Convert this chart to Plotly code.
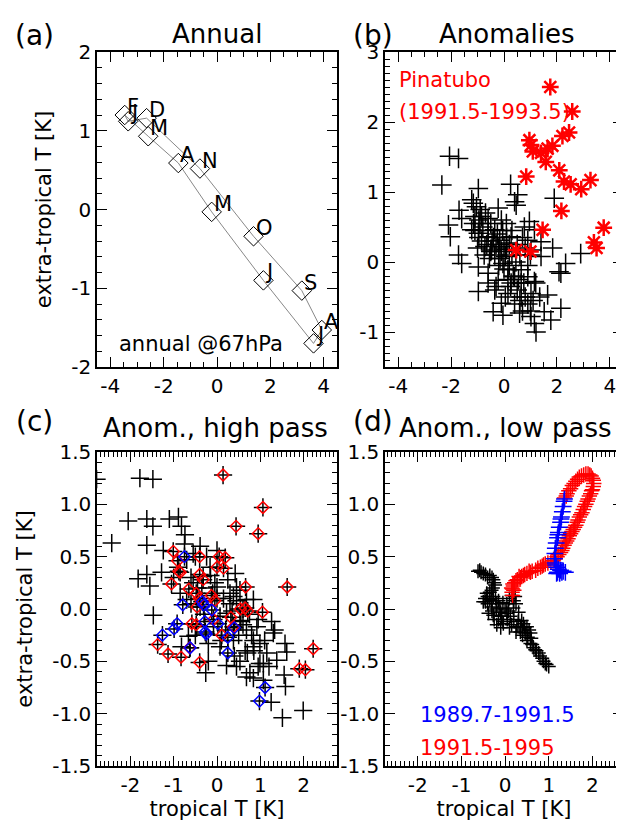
import plotly.graph_objects as go

# ---- (a) annual cycle ----
month_labels = ["J", "F", "M", "A", "M", "J", "J", "A", "S", "O", "N", "D"]
annual_trop = [-3.33, -3.46, -2.58, -1.45, -0.20, 1.74, 3.62, 3.93, 3.18, 1.37, -0.64, -2.64]
annual_extra = [1.12, 1.20, 0.93, 0.59, -0.03, -0.90, -1.70, -1.53, -1.03, -0.34, 0.52, 1.16]

# ---- (b) anomalies ----
anom_trop = [-2.06, -1.72, -2.35, -0.97, 0.25, 0.52, 1.90, 0.40, 0.46, -1.22, -1.16, -1.04, -0.22,
             -1.70, -1.60, -2.10, -2.03, -1.10, -0.91, -0.60, -0.10, 0.09, 0.96, 0.77, 1.15, -1.22,
             -0.97, -0.60, -0.35, -0.16, 0.09, -0.72, -0.47, 0.27, 0.90, 1.40, 1.84, -1.72, -1.60,
             -0.97, -0.60, -0.04, 0.15, 0.65, 0.90, 0.40, -0.22, 0.27, 0.65, 1.15, -0.97, -0.35,
             0.15, 0.65, 1.02, 1.65, -0.10, -0.41, -0.04, 0.59, 1.02, 1.52, 2.15, 1.15, 1.21, 1.77,
             2.33, 2.90, 2.08, 2.15, 1.40, 1.02,
             -0.90, -0.85, -0.70, -0.95, -0.80, -0.60, -0.50, -0.40, -0.30, -0.20, -0.10, 0.00,
             0.10, 0.20, -0.25, -0.45, -0.65, -0.85, -1.00, -0.75, -0.55, -0.35, -0.15, 0.05, 0.30,
             0.45, 0.20, 0.00, -0.20, 0.35, 0.55, 0.75, 0.25, 0.50, 0.80, 0.60, 0.90, 1.00, 0.70,
             1.10, 0.40, 0.15, 0.60, 0.80, 0.70, 1.00, -1.10, -1.15, -0.95, -0.50, 0.10, 0.30,
             -0.05, 0.50, 0.90, 1.20, 1.35, -0.60, -0.30, 0.05]
anom_extra = [1.51, 1.48, 1.10, 1.05, 1.11, 0.96, 0.91, 0.86, 0.81, 0.89, 0.84, 0.79, 0.77,
              0.74, 0.62, 0.53, 0.36, 0.65, 0.55, 0.62, 0.60, 0.55, 0.58, 0.50, 0.46, 0.46,
              0.41, 0.36, 0.46, 0.31, 0.27, 0.22, 0.17, 0.36, 0.31, 0.29, 0.20, 0.10, -0.02,
              -0.07, -0.16, -0.02, -0.11, -0.11, -0.21, -0.21, -0.26, -0.30, -0.30, -0.28, -0.42, -0.40,
              -0.45, -0.50, -0.45, -0.47, -0.59, -0.71, -0.76, -0.73, -0.78, -0.71, -0.66, -0.88, -1.00, -0.83,
              -0.02, 0.12, -0.14, -0.16, 0.08, 0.17,
              0.75, 0.65, 0.70, 0.60, 0.50, 0.45, 0.55, 0.35, 0.25, 0.20, 0.15, 0.22,
              0.18, 0.25, 0.40, 0.30, 0.25, 0.30, 0.20, 0.10, 0.05, 0.10, 0.05, 0.08, 0.10,
              0.00, -0.05, -0.10, -0.05, -0.20, -0.25, -0.30, -0.35, -0.40, -0.50, -0.55, -0.60, -0.70, -0.70,
              -0.55, -0.60, -0.25, 0.10, 0.20, 0.35, 0.10, 0.45, 0.55, 0.35, 0.15, 0.35, 0.45,
              0.45, 0.25, -0.05, -0.30, -0.50, -0.30, -0.35, -0.50]
pina_trop = [1.75, 2.58, 2.46, 2.21, 0.96, 1.02, 1.83, 1.65, 1.09, 1.40, 1.58, 2.09, 0.84, 2.27,
             2.52, 2.92, 3.27, 2.17, 3.77, 1.46, 3.40, 3.50, 0.46, 1.00]
pina_extra = [2.50, 2.15, 1.85, 1.80, 1.74, 1.67, 1.66, 1.62, 1.58, 1.56, 1.43, 1.31, 1.22, 1.15,
              1.11, 1.04, 1.17, 0.73, 0.49, 0.46, 0.28, 0.20, 0.17, 0.15]

# ---- (c) high pass ----
hp_trop = [-2.78, -1.78, -1.48, -2.05, -1.62, -1.48, -2.43, -1.10, -0.89, -0.82, -0.74, -1.62,
           -1.24, -1.82, -1.62, -1.28, -1.55, -1.47, -0.39, 0.00, 0.42, 0.00, 0.53, 0.84, 1.26,
           1.33, 1.30, 0.84, 0.99, 1.57, 1.61, 1.55, 1.58, 1.25, 1.99, 1.51, 0.53, 0.22, -0.26,
           0.45, 0.76, 0.68, 0.84, 0.99, 1.07, -0.82, -0.66, -0.47, -0.20, 0.07, 0.38, 0.68,
           0.92, 0.53, 0.22, -0.39, -0.70, -0.85, -0.55, -0.32, -0.16, -0.70, -0.55, -0.24, 0.38,
           0.68, 0.45, 0.30, 0.07, -0.08, 0.84, 1.15, 1.07, 1.38,
           -0.60, -0.45, -0.10, 0.15, 0.60, 0.75, -0.30, 0.20, 0.50, -0.90, -0.60, 0.95, 1.10,
           -0.05, 0.30, 0.60, 0.85, -0.50, -1.00, -0.20, 0.10, 0.40, 0.65, 0.95,
           -0.75, -0.35, 0.25, 0.55, 0.80, -0.15, 0.35, 0.70, 1.20, -0.50, 0.00, 0.45]
hp_extra = [1.24, 1.25, 1.24, 0.84, 0.86, 0.79, 0.63, 0.86, 0.88, 0.79, 0.71, 0.61,
            0.56, 0.29, 0.33, 0.35, 0.22, -0.06, 0.60, 0.56, 0.34, 0.21, 0.18, 0.09, -0.12,
            -0.20, -0.23, -0.36, -0.33, -0.33, -0.41, -0.63, -0.74, -0.89, -0.97, -1.04, -0.50, -0.54, -0.61,
            -0.55, -0.61, -0.65, -0.66, -0.52, -0.68, -0.36, -0.26, -0.17, -0.33, -0.36, -0.30, -0.20,
            -0.17, -0.11, -0.04, 0.02, 0.09, 0.15, 0.25, 0.31, 0.40, 0.47, 0.53, 0.50, 0.12,
            0.09, 0.21, 0.05, -0.07, -0.17, -0.30, -0.42, -0.52, -0.49,
            0.30, 0.20, 0.15, 0.10, 0.00, -0.05, -0.05, -0.20, -0.25, 0.40, 0.05, -0.10, -0.30,
            0.25, 0.15, -0.15, -0.40, -0.25, 0.30, -0.50, -0.30, -0.45, -0.40, -0.55,
            0.62, 0.20, 0.28, -0.12, -0.25, 0.32, -0.02, -0.42, -0.55, 0.50, 0.10, 0.08]
hp_red_trop = [0.14, 1.06, 0.44, 0.95, -1.01, -0.91, -0.40, 0.05, 0.19, 0.00, 0.15, -0.88, -0.85,
               -0.40, -0.32, -1.05, 0.66, 1.62, -0.65, -0.48, -0.41, -0.05, -0.13, -0.46, 0.54,
               0.65, 0.71, 1.05, -0.08, 0.32, -0.58, -0.48, 0.38, 0.11, -1.37, 2.22, -1.13, -0.83,
               -0.40, -0.63, 1.90, 2.04]
hp_red_extra = [1.28, 0.97, 0.79, 0.72, 0.55, 0.46, 0.50, 0.50, 0.49, 0.40, 0.39, 0.36, 0.35,
                0.33, 0.28, 0.24, 0.21, 0.21, 0.19, 0.15, 0.10, 0.08, 0.13, 0.02, 0.00,
                0.01, -0.02, -0.03, -0.10, -0.08, -0.14, -0.15, -0.17, -0.25, -0.34, -0.38, -0.43, -0.46,
                -0.51, -0.37, -0.57, -0.58]
hp_blue_trop = [-0.75, -0.79, -0.34, -0.31, -0.12, -0.28, 0.02, -0.92, -0.99, -1.26, -0.27, -0.25,
                0.25, 0.40, -0.62, 0.25, 1.11, 0.98]
hp_blue_extra = [0.50, 0.04, 0.07, 0.04, -0.01, -0.12, -0.14, -0.14, -0.19, -0.25, -0.22, -0.24,
                 -0.27, -0.18, -0.37, -0.42, -0.75, -0.88]

# ---- (d) low pass ----
lp_trop = [-0.62, -0.50, -0.35, -0.27, -0.23, -0.31, -0.42, -0.46, -0.35, -0.27, 0.23, 0.15,
           -0.19, -0.12, -0.31, -0.38, -0.27, -0.08, 0.04, 0.12, -0.15, -0.19, -0.04, 0.15, 0.27,
           0.42, 0.50, 0.58, 0.46, 0.35, 0.50, 0.62, 0.69, 0.77, 0.85, 0.92, 1.00, 0.04, 0.19,
           0.31, 0.38, -0.50, -0.58,
           -0.55, -0.45, -0.40, -0.30, -0.25, -0.28, -0.35, -0.40, -0.45, -0.40, -0.30, -0.22,
           -0.15, -0.05, 0.10, 0.20, 0.25, -0.20, -0.30, -0.25, -0.10, 0.00, 0.08, -0.05, 0.05,
           0.20, 0.30, 0.35, 0.40, 0.45, 0.55, 0.52, 0.60, 0.58, 0.65, 0.72, 0.80, 0.88, 0.95,
           -0.10, 0.10, 0.25, 0.40]
lp_extra = [0.36, 0.34, 0.32, 0.28, 0.23, 0.18, 0.15, 0.10, 0.09, 0.12, 0.12, 0.13,
            0.05, 0.01, 0.02, -0.04, -0.06, -0.07, -0.04, -0.07, -0.10, -0.15, -0.14, -0.15, -0.17,
            -0.14, -0.17, -0.23, -0.23, -0.22, -0.30, -0.34, -0.39, -0.42, -0.47, -0.52, -0.55, 0.05, 0.01,
            -0.03, -0.11, 0.07, 0.37,
            0.35, 0.33, 0.30, 0.30, 0.25, 0.20, 0.16, 0.12, 0.07, 0.05, 0.08, 0.10,
            0.08, 0.06, 0.10, 0.08, 0.05, 0.00, -0.02, -0.10, -0.03, 0.00, -0.02, -0.12, -0.10,
            -0.10, -0.12, -0.18, -0.20, -0.18, -0.20, -0.27, -0.28, -0.33, -0.37, -0.40, -0.45, -0.50, -0.53,
            -0.18, -0.18, -0.22, -0.25]
lp_blue_trop = [1.20, 1.25, 1.30, 1.38, 1.22, 1.18, 1.15, 1.13, 1.14, 1.15, 1.17, 1.20, 1.22,
                1.24, 1.27, 1.29, 1.31, 1.33, 1.35, 1.18, 1.27, 1.33, 1.16, 1.21, 1.28, 1.36]
lp_blue_extra = [0.35, 0.34, 0.35, 0.35, 0.38, 0.40, 0.44, 0.48, 0.53, 0.58, 0.63, 0.68, 0.73,
                 0.78, 0.83, 0.88, 0.93, 0.98, 1.03, 0.34, 0.37, 0.36, 0.42, 0.71, 0.86, 1.05]
lp_red_trop = [1.36, 1.42, 1.50, 1.58, 1.66, 1.75, 1.85, 1.94, 2.00, 2.03, 2.00, 1.96, 1.90, 1.85,
               1.79, 1.73, 1.67, 1.62, 1.56, 1.50, 1.44, 1.38, 1.32, 1.27, 1.19, 1.10, 0.98, 0.88,
               0.81, 0.70, 0.58, 0.50, 0.42, 0.35, 0.28, 0.22, 0.19, 0.17, 0.16, 0.17,
               0.15, 0.18, 0.20, 0.25, 0.32, 0.38, 0.45, 0.55, 0.62, 0.75, 0.85, 0.92, 1.05, 1.15,
               1.23, 1.30, 1.35, 1.41, 1.47, 1.53, 1.59, 1.65, 1.70, 1.76, 1.82, 1.88, 1.93, 1.98,
               2.02, 2.02, 1.97, 1.90, 1.80, 1.70, 1.62, 1.54, 1.46, 1.40]
lp_red_extra = [1.06, 1.10, 1.15, 1.20, 1.24, 1.27, 1.29, 1.28, 1.25, 1.20, 1.14, 1.10, 1.05, 1.00,
                0.95, 0.90, 0.85, 0.80, 0.76, 0.72, 0.67, 0.63, 0.58, 0.54, 0.50, 0.46, 0.44, 0.42,
                0.40, 0.37, 0.35, 0.34, 0.32, 0.30, 0.28, 0.25, 0.22, 0.19, 0.16, 0.13,
                0.20, 0.24, 0.18, 0.27, 0.31, 0.31, 0.33, 0.36, 0.36, 0.39, 0.41, 0.43, 0.45, 0.48,
                0.52, 0.56, 0.61, 0.65, 0.70, 0.74, 0.78, 0.83, 0.88, 0.92, 0.98, 1.03, 1.08, 1.13,
                1.17, 1.23, 1.27, 1.29, 1.28, 1.26, 1.22, 1.18, 1.13, 1.08]

FONT = "DejaVu Sans"
OFF = 8  # the page body has an 8px margin
W, H = 624 - OFF, 827 - OFF


def mk(symbol, size, color, width):
    return dict(symbol=symbol, size=size, color=color, line=dict(width=width, color=color))


fig = go.Figure()

# (a)
fig.add_trace(go.Scatter(x=annual_trop + annual_trop[:1], y=annual_extra + annual_extra[:1],
                         mode="lines", line=dict(color="#888888", width=1),
                         xaxis="x", yaxis="y"))
fig.add_trace(go.Scatter(x=annual_trop, y=annual_extra, mode="markers",
                         marker=mk("diamond-open", 15, "black", 1),
                         xaxis="x", yaxis="y"))
for lab, xv, yv in zip(month_labels, annual_trop, annual_extra):
    fig.add_annotation(text=lab, x=xv, y=yv, xref="x", yref="y", xanchor="left",
                       yanchor="bottom", xshift=0, yshift=-6, showarrow=False,
                       font=dict(size=21, color="black", family=FONT))

# (b)
fig.add_trace(go.Scatter(x=anom_trop, y=anom_extra, mode="markers",
                         marker=mk("cross-thin-open", 14, "black", 1.5),
                         xaxis="x2", yaxis="y2"))
fig.add_trace(go.Scatter(x=pina_trop, y=pina_extra, mode="markers",
                         marker=mk("asterisk-open", 14, "red", 2.5),
                         xaxis="x2", yaxis="y2"))

# (c)
fig.add_trace(go.Scatter(x=hp_trop + hp_red_trop + hp_blue_trop,
                         y=hp_extra + hp_red_extra + hp_blue_extra, mode="markers",
                         marker=mk("cross-thin-open", 13, "black", 1.5),
                         xaxis="x3", yaxis="y3"))
fig.add_trace(go.Scatter(x=hp_red_trop, y=hp_red_extra, mode="markers",
                         marker=mk("diamond-open", 9, "red", 1.5),
                         xaxis="x3", yaxis="y3"))
fig.add_trace(go.Scatter(x=hp_blue_trop, y=hp_blue_extra, mode="markers",
                         marker=mk("diamond-open", 9, "blue", 1.5),
                         xaxis="x3", yaxis="y3"))

# (d)
fig.add_trace(go.Scatter(x=lp_trop, y=lp_extra, mode="markers",
                         marker=mk("cross-thin-open", 10, "black", 1.5),
                         xaxis="x4", yaxis="y4"))
fig.add_trace(go.Scatter(x=lp_red_trop, y=lp_red_extra, mode="markers",
                         marker=mk("cross-thin-open", 11, "red", 1.5),
                         xaxis="x4", yaxis="y4"))
fig.add_trace(go.Scatter(x=lp_blue_trop, y=lp_blue_extra, mode="markers",
                         marker=mk("cross-thin-open", 12, "blue", 1.5),
                         xaxis="x4", yaxis="y4"))


def px_x(p):
    return (p - OFF) / W


def px_y(p):
    return 1 - (p - OFF) / H


def axis(rng, vals, texts, dom, minor, anchor, title=None, standoff=12):
    d = dict(range=rng, domain=dom, anchor=anchor, tickvals=vals, ticktext=texts,
             ticks="inside", ticklen=10, tickwidth=1, tickcolor="black",
             mirror="allticks", showline=True, linecolor="black", linewidth=1.5,
             showgrid=False, zeroline=False, automargin=False,
             tickfont=dict(size=20, color="black", family=FONT),
             minor=dict(dtick=minor, ticks="inside", ticklen=5, tickcolor="black", showgrid=False))
    if title:
        d["title"] = dict(text=title, font=dict(size=21, color="black", family=FONT),
                          standoff=standoff)
    return d


xa = [px_x(97), px_x(337)]
xb = [px_x(385), min(1.0, px_x(623))]
ytop = [px_y(367), px_y(52)]
ybot = [px_y(766), px_y(452)]

t4 = [-4, -2, 0, 2, 4]
t4s = ["-4", "-2", "0", "2", "4"]
t2 = [-2, -1, 0, 1, 2]
t2s = ["-2", "-1", "0", "1", "2"]
yc = [-1.5, -1.0, -0.5, 0.0, 0.5, 1.0, 1.5]
ycs = ["-1.5", "-1.0", "-0.5", "0.0", "0.5", "1.0", "1.5"]

fig.update_layout(
    width=W, height=H, margin=dict(l=0, r=0, t=0, b=0, autoexpand=False),
    plot_bgcolor="white", paper_bgcolor="white", showlegend=False,
    font=dict(family=FONT, color="black"),
    xaxis=axis([-4.5, 4.5], t4, t4s, xa, 0.5, "y"),
    yaxis=axis([-2, 2], [-2, -1, 0, 1, 2], ["-2", "-1", "0", "1", "2"], ytop, 0.2, "x",
               title="extra-tropical T [K]", standoff=14),
    xaxis2=axis([-4.5, 4.5], t4, t4s, xb, 0.5, "y2"),
    yaxis2=axis([-1.5, 3], [-1, 0, 1, 2, 3], ["-1", "0", "1", "2", "3"], ytop, 0.1, "x2"),
    xaxis3=axis([-2.77, 2.77], t2, t2s, xa, 0.1, "y3", title="tropical T [K]", standoff=4),
    yaxis3=axis([-1.5, 1.5], yc, ycs, ybot, 0.1, "x3", title="extra-tropical T [K]",
                standoff=14),
    xaxis4=axis([-2.75, 2.7], t2, t2s, xb, 0.1, "y4", title="tropical T [K]", standoff=4),
    yaxis4=axis([-1.5, 1.5], yc, ycs, ybot, 0.1, "x4"),
)

anns = [
    ("(a)", 34, 36, 28), ("Annual", 217, 34, 26),
    ("(b)", 373, 36, 28), ("Anomalies", 506, 34, 26),
    ("(c)", 34, 421, 28), ("Anom., high pass", 215, 428, 26),
    ("(d)", 373, 421, 28), ("Anom., low pass", 505, 428, 26),
]
for txt, x, y, s in anns:
    fig.add_annotation(text=txt, x=px_x(x), y=px_y(y), xref="paper", yref="paper",
                       xanchor="center", yanchor="middle", showarrow=False,
                       font=dict(size=s, color="black", family=FONT))

fig.add_annotation(text="annual @67hPa", x=-3.75, y=-1.71, xref="x", yref="y",
                   xanchor="left", yanchor="middle", showarrow=False,
                   font=dict(size=21, color="black", family=FONT))
fig.add_annotation(text="Pinatubo", x=-4.05, y=2.6, xref="x2", yref="y2",
                   xanchor="left", yanchor="middle", showarrow=False,
                   font=dict(size=21, color="red", family=FONT))
fig.add_annotation(text="(1991.5-1993.5)", x=-4.05, y=2.14, xref="x2", yref="y2",
                   xanchor="left", yanchor="middle", showarrow=False,
                   font=dict(size=21, color="red", family=FONT))
fig.add_annotation(text="1989.7-1991.5", x=-2.0, y=-1.01, xref="x4", yref="y4",
                   xanchor="left", yanchor="middle", showarrow=False,
                   font=dict(size=21, color="blue", family=FONT))
fig.add_annotation(text="1991.5-1995", x=-2.0, y=-1.33, xref="x4", yref="y4",
                   xanchor="left", yanchor="middle", showarrow=False,
                   font=dict(size=21, color="red", family=FONT))

fig.write_html("out.html")
